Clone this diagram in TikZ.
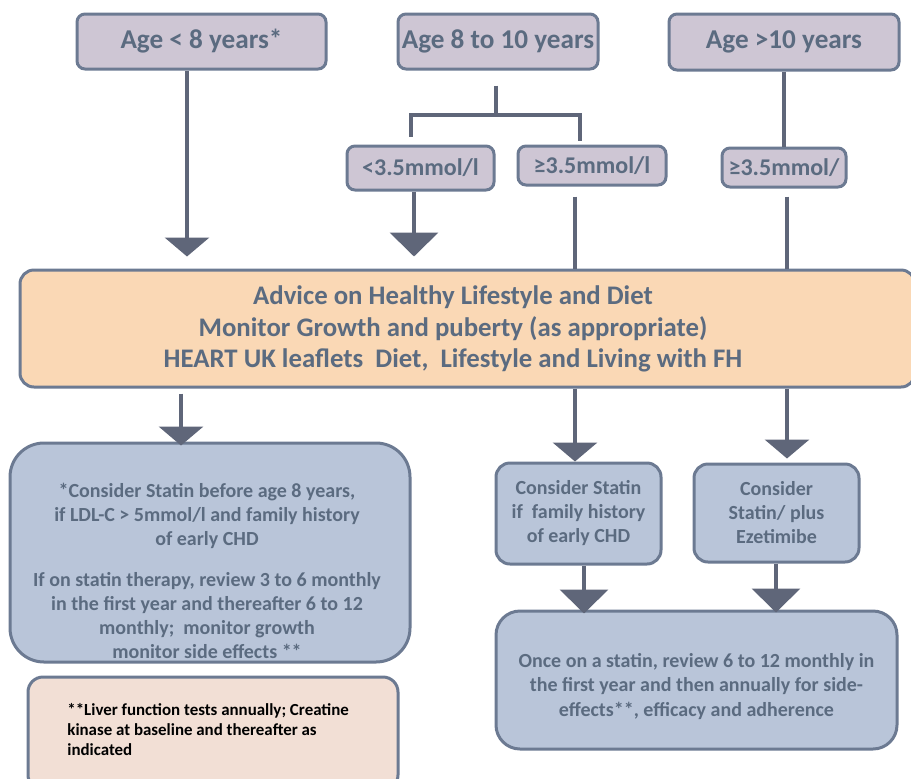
\documentclass[tikz,border=0pt]{standalone}
\usepackage{fontspec}
\setmainfont{Carlito}
\usetikzlibrary{arrows.meta}

\definecolor{edgegray}{HTML}{6C7A92}
\definecolor{arrowgray}{HTML}{5F6679}
\definecolor{textgray}{HTML}{5B6B80}
\definecolor{agefill}{HTML}{CEC6D4}
\definecolor{peach}{HTML}{FAD8B5}
\definecolor{paleblue}{HTML}{B9C5D9}
\definecolor{pink}{HTML}{F2DFD5}

\tikzset{
	agebox/.style={draw=edgegray,line width=1.5pt,fill=agefill,rounded corners=4pt,
		text=textgray,inner sep=0pt,font=\fontsize{13.6}{15}\selectfont\bfseries},
	levelbox/.style={agebox,font=\fontsize{12}{14}\selectfont\bfseries},
	bluebox/.style={draw=edgegray,line width=1.5pt,fill=paleblue,rounded corners=7pt,
		text=textgray,inner sep=0pt,align=center,font=\fontsize{10}{12}\selectfont\bfseries},
	link/.style={line width=2pt,draw=arrowgray},
	flow/.style={link,-{Triangle[width=22pt,length=9.5pt]}},
	bigflow/.style={link,-{Triangle[width=24pt,length=12pt]}}
}

\begin{document}
\begin{tikzpicture}[x=0.5pt,y=-0.5pt]
	\useasboundingbox (0,0) rectangle (911,778);
	
	% age groups
	\node[agebox,minimum width=124.5pt,minimum height=27.5pt] (ageA) at (201.5,41.5) {Age < 8 years*};
	\node[agebox,minimum width=100pt,minimum height=27.5pt] (ageB) at (498,41.5) {Age 8 to 10 years};
	\node[agebox,minimum width=115pt,minimum height=28pt] (ageC) at (784,42) {Age >10 years};
	
	% LDL levels
	\node[levelbox,minimum width=73.5pt,minimum height=22pt] (lowB) at (420.5,168) {<3.5mmol/l};
	\node[levelbox,minimum width=74pt,minimum height=19.5pt] (highB) at (592,165.5) {≥3.5mmol/l};
	\node[levelbox,minimum width=62pt,minimum height=19.5pt] (highC) at (784,167.5) {≥3.5mmol/};
	
	\node[draw=edgegray,line width=1.5pt,fill=peach,rounded corners=7pt,
		minimum width=447.5pt,minimum height=58.5pt] (main) at (467.5,328.5) {};
	\node[text=textgray,align=center,font=\fontsize{13.4}{15.75}\selectfont\bfseries] (mainText) at (453,329)
		{Advice on Healthy Lifestyle and Diet\\
		 Monitor Growth and puberty (as appropriate)\\
		 HEART UK leaflets~ Diet,~ Lifestyle and Living with FH};
	
	\node[bluebox,rounded corners=17pt,minimum width=200pt,minimum height=109.5pt] (advice) at (210,552.5) {};
	\node[text=textgray,align=center,font=\fontsize{10}{12}\selectfont\bfseries] (adviceText) at (207,570.5)
		{*Consider Statin before age 8 years,\\
		 if LDL-C > 5mmol/l and family history\\
		 of early CHD\\[8.5pt]
		 If on statin therapy, review 3 to 6 monthly\\
		 in the first year and thereafter 6 to 12\\
		 monthly;~ monitor growth\\
		 monitor side effects **};
	
	\node[draw=edgegray,line width=1.5pt,fill=pink,rounded corners=7.5pt,
		minimum width=185pt,minimum height=56.5pt] (liver) at (213,733.5) {};
	\node[anchor=west,align=left,inner sep=0pt,font=\fontsize{8.45}{10}\selectfont\bfseries] (liverText) at (67,730)
		{**Liver function tests annually; Creatine\\
		 kinase at baseline and thereafter as\\
		 indicated};
	
	\node[bluebox,minimum width=82.5pt,minimum height=50.5pt] (histBox) at (578.5,513.5)
		{Consider Statin\\ if~ family history\\ of early CHD};
	\node[bluebox,minimum width=82.5pt,minimum height=49pt] (ezeBox) at (776.5,513)
		{Consider\\ Statin/ plus\\ Ezetimibe};
	\node[bluebox,rounded corners=12pt,minimum width=200.5pt,minimum height=69pt,
		font=\fontsize{10}{12.25}\selectfont\bfseries] (review) at (696.5,680)
		{\rule{0pt}{0pt}\\[1pt]Once on a statin, review 6 to 12 monthly in\\
		 the first year and then annually for side-\\
		 effects**, efficacy and adherence};
	
	\coordinate (colA) at (187,0);
	\coordinate (colL) at (414,0);
	\coordinate (colM) at (575,0);
	\coordinate (colR) at (787,0);
	\coordinate (colLL) at (181,0);
	\coordinate (colH) at (584,0);
	\coordinate (colE) at (776,0);
	\coordinate (split) at (496,115);
	\coordinate (jL) at (411,0);
	\coordinate (jR) at (580,0);
	
	\draw [flow,shorten >=6pt] (ageA.south -| colA) -- (main.north -| colA);
	
	\draw [link,shorten <=7.5pt] (ageB.south -| split) -- (split);
	\draw [link,shorten >=4pt] (split) -| (lowB.north -| jL);
	\draw [link,shorten >=2pt] (split) -| (highB.north -| jR);
	
	\draw [link] (ageC) -- (highC);
	
	\draw [bigflow,shorten >=6pt] (lowB.south -| colL) -- (main.north -| colL);
	\draw [link,shorten <=5pt] (highB.south -| colM) -- (main.north -| colM);
	\draw [link,shorten <=4pt] (highC.south -| colR) -- (main.north -| colR);
	
	\draw [flow,shorten <=2.5pt,shorten >=-2pt] (main.south -| colLL) -- (advice.north -| colLL);
	\draw [flow] (main.south -| colM) -- (histBox.north -| colM);
	\draw [flow,shorten >=2pt] (main.south -| colR) -- (ezeBox.north -| colR);
	
	\draw [bigflow,shorten >=-2pt] (histBox.south -| colH) -- (review.north -| colH);
	\draw [bigflow,shorten >=-1.5pt] (ezeBox.south -| colE) -- (review.north -| colE);
	
\end{tikzpicture}
\end{document}
